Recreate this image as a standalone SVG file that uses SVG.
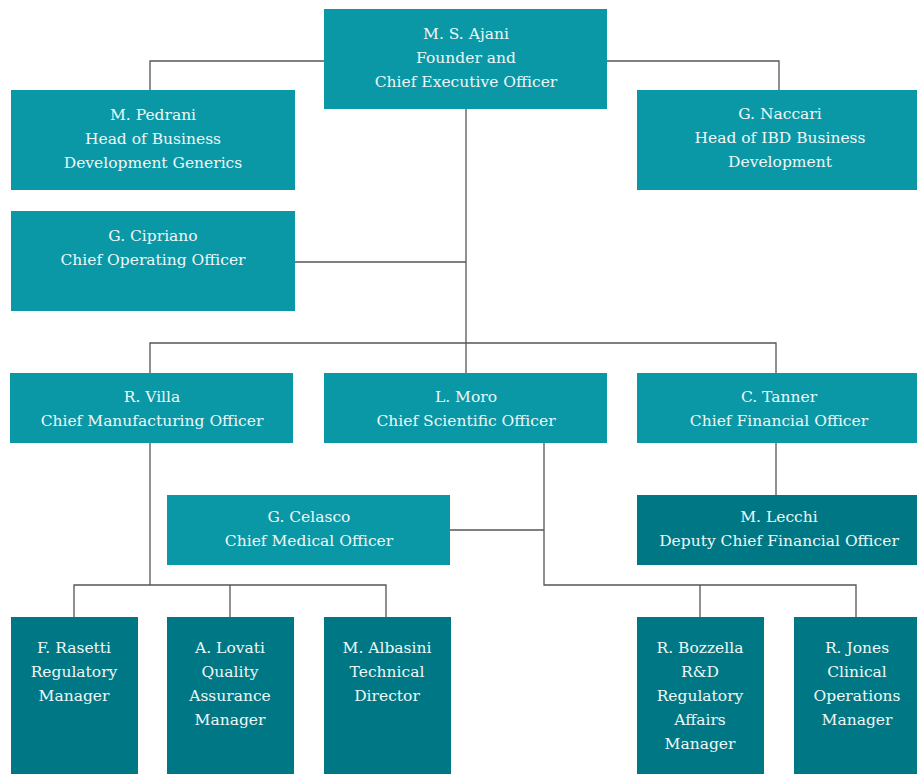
<svg xmlns="http://www.w3.org/2000/svg" width="917" height="774" viewBox="0 0 917 774">
<style>
.b{fill:#0a97a6}
.d{fill:#007784}
text{font-family:"DejaVu Serif","Liberation Serif",serif;font-size:15.5px;fill:#eef7f7;text-anchor:middle}
.c line,.c polyline{stroke:#555;stroke-width:1.3;fill:none}
</style>
<rect width="917" height="774" fill="#fff"/>
<g class="c" id="connectors">
<polyline points="324,61 150,61 150,90"/>
<polyline points="607,61 779,61 779,90"/>
<line x1="466" y1="109" x2="466" y2="373"/>
<line x1="295" y1="262" x2="466" y2="262"/>
<polyline points="150,373 150,343 776,343 776,373"/>
<line x1="776" y1="443" x2="776" y2="495"/>
<line x1="150" y1="443" x2="150" y2="585"/>
<polyline points="74,617 74,585 386,585 386,617"/>
<line x1="230" y1="585" x2="230" y2="617"/>
<polyline points="544,443 544,585 856,585 856,617"/>
<line x1="450" y1="530" x2="544" y2="530"/>
<line x1="700" y1="585" x2="700" y2="617"/>
</g>
<g id="ajani"><rect class="b" x="324" y="9" width="283" height="100"/><text x="466" y="39">M. S. Ajani</text><text x="466" y="63">Founder and</text><text x="466" y="87">Chief Executive Officer</text></g>
<g id="pedrani"><rect class="b" x="11" y="90" width="284" height="100"/><text x="153" y="120">M. Pedrani</text><text x="153" y="144">Head of Business</text><text x="153" y="168">Development Generics</text></g>
<g id="naccari"><rect class="b" x="637" y="90" width="280" height="100"/><text x="780" y="119">G. Naccari</text><text x="780" y="143">Head of IBD Business</text><text x="780" y="167">Development</text></g>
<g id="cipriano"><rect class="b" x="11" y="211" width="284" height="100"/><text x="153" y="241">G. Cipriano</text><text x="153" y="265">Chief Operating Officer</text></g>
<g id="villa"><rect class="b" x="10" y="373" width="283" height="70"/><text x="152" y="402">R. Villa</text><text x="152" y="426">Chief Manufacturing Officer</text></g>
<g id="moro"><rect class="b" x="324" y="373" width="283" height="70"/><text x="466" y="402">L. Moro</text><text x="466" y="426">Chief Scientific Officer</text></g>
<g id="tanner"><rect class="b" x="637" y="373" width="280" height="70"/><text x="779" y="402">C. Tanner</text><text x="779" y="426">Chief Financial Officer</text></g>
<g id="celasco"><rect class="b" x="167" y="495" width="283" height="70"/><text x="309" y="522">G. Celasco</text><text x="309" y="546">Chief Medical Officer</text></g>
<g id="lecchi"><rect class="d" x="637" y="495" width="280" height="70"/><text x="779" y="522">M. Lecchi</text><text x="779" y="546">Deputy Chief Financial Officer</text></g>
<g id="rasetti"><rect class="d" x="11" y="617" width="127" height="157"/><text x="74" y="653">F. Rasetti</text><text x="74" y="677">Regulatory</text><text x="74" y="701">Manager</text></g>
<g id="lovati"><rect class="d" x="167" y="617" width="127" height="157"/><text x="230" y="653">A. Lovati</text><text x="230" y="677">Quality</text><text x="230" y="701">Assurance</text><text x="230" y="725">Manager</text></g>
<g id="albasini"><rect class="d" x="324" y="617" width="127" height="157"/><text x="387" y="653">M. Albasini</text><text x="387" y="677">Technical</text><text x="387" y="701">Director</text></g>
<g id="bozzella"><rect class="d" x="637" y="617" width="127" height="157"/><text x="700" y="653">R. Bozzella</text><text x="700" y="677">R&amp;D</text><text x="700" y="701">Regulatory</text><text x="700" y="725">Affairs</text><text x="700" y="749">Manager</text></g>
<g id="jones"><rect class="d" x="794" y="617" width="127" height="157"/><text x="857" y="653">R. Jones</text><text x="857" y="677">Clinical</text><text x="857" y="701">Operations</text><text x="857" y="725">Manager</text></g>
</svg>
